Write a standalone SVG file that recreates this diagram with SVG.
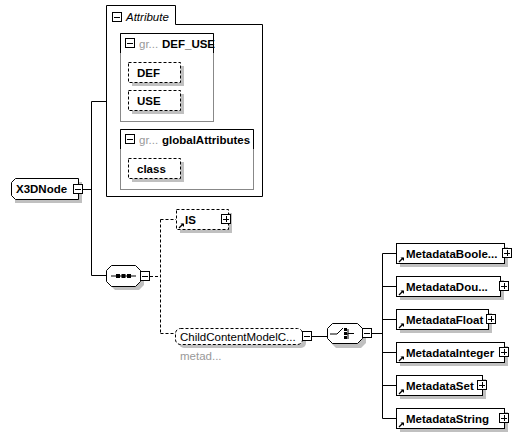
<svg xmlns="http://www.w3.org/2000/svg" width="523" height="437" viewBox="0 0 523 437">
<style>
.t{font-family:"Liberation Sans",Arial,sans-serif;font-size:11.5px;fill:#000;}
.b{font-weight:bold;}
.g{fill:#999;}
.ln{stroke:#000;stroke-width:1;fill:none;}
.dl{stroke:#000;stroke-width:1;fill:none;stroke-dasharray:3,2;}
.box{fill:#fff;stroke:#000;stroke-width:1;}
.dbox{fill:#fff;stroke:#000;stroke-width:1;stroke-dasharray:3,2;}
.sh{fill:#c0c0c0;}
.btn{fill:#fff;stroke:#000;stroke-width:1;}
.gb{fill:none;stroke:#888;stroke-width:1;}
</style>
<defs>
<g id="minus"><rect class="btn" x="0.5" y="0.5" width="9" height="9"/><path class="ln" d="M2,5.5H8"/></g>
<g id="plus"><rect class="btn" x="0.5" y="0.5" width="9" height="9"/><path class="ln" d="M2,5.5H8M5.5,2V8"/></g>
<g id="ref"><path d="M1,7L5,3" stroke="#000" stroke-width="1.2"/><path d="M2.5,2.5H6V6Z" fill="#000"/></g>
</defs>
<rect width="523" height="437" fill="#fff"/>

<g id="connectors">
<path class="ln" d="M83,189.5H91.5M91.5,101.5V275.5M91.5,101.5H106M91.5,275.5H106"/>
<path class="dl" d="M150,276.5H160.5M160.5,219.5V333.5M160.5,219.5H176M160.5,333.5H176"/>
<path class="ln" d="M312,336.5H327M372,333.5H382.5M382.5,253.5V418.5"/>
<path class="ln" d="M382.5,253.5H396M382.5,286.5H396M382.5,319.5H396M382.5,352.5H396M382.5,385.5H396M382.5,418.5H396"/>
</g>

<g id="attribute">
<path class="ln" d="M106.5,196.5V5.5H175.5V24.5H262.5V196.5Z" fill="#fff"/>
<use href="#minus" x="112" y="12"/>
<text class="t" x="126" y="21" font-style="italic">Attribute</text>
</g>

<g id="DEF_USE">
<rect class="gb" x="120.5" y="33.5" width="93" height="88"/>
<path class="ln" d="M120.5,53V33.5H213.5V53"/>
<use href="#minus" x="125" y="38"/>
<text class="t g" x="139" y="48">gr...</text>
<text class="t b" x="162" y="48">DEF_USE</text>
</g>
<g id="DEF">
<rect class="sh" x="132" y="66" width="52" height="20"/>
<rect class="dbox" x="128.5" y="62.5" width="52" height="20"/>
<text class="t b" x="137" y="77">DEF</text>
</g>
<g id="USE">
<rect class="sh" x="132" y="94" width="52" height="20"/>
<rect class="dbox" x="128.5" y="90.5" width="52" height="20"/>
<text class="t b" x="137" y="105">USE</text>
</g>

<g id="globalAttributes">
<rect class="gb" x="120.5" y="129.5" width="133" height="60"/>
<path class="ln" d="M120.5,149V129.5H253.5V149"/>
<use href="#minus" x="125" y="134"/>
<text class="t g" x="139" y="144">gr...</text>
<text class="t b" x="162" y="144">globalAttributes</text>
</g>
<g id="class">
<rect class="sh" x="132" y="162" width="52" height="20"/>
<rect class="dbox" x="128.5" y="158.5" width="52" height="20"/>
<text class="t b" x="137" y="173">class</text>
</g>

<g id="X3DNode">
<path class="sh" d="M19,182H82V203H15V186Z"/>
<path class="box" d="M15.5,178.5H78.5V199.5H15.5L11.5,195.5V182.5Z"/>
<text class="t b" x="16" y="193">X3DNode</text>
<use href="#minus" x="73" y="184"/>
</g>

<g id="sequence">
<path class="sh" d="M115,269H139L144,274V285L139,290H115L110,285V274Z"/>
<path class="box" d="M111.5,265.5H135.5L140.5,270.5V281.5L135.5,286.5H111.5L106.5,281.5V270.5Z"/>
<path class="ln" d="M111,276H136"/>
<rect x="116" y="274" width="4" height="4" fill="#000"/>
<rect x="121.5" y="274" width="4" height="4" fill="#000"/>
<rect x="127" y="274" width="4" height="4" fill="#000"/>
<use href="#minus" x="140" y="271"/>
</g>

<g id="IS">
<rect class="sh" x="180" y="213" width="52" height="20"/>
<rect class="dbox" x="176.5" y="209.5" width="52" height="20"/>
<use href="#ref" x="178" y="221"/>
<text class="t b" x="185" y="224">IS</text>
<use href="#plus" x="221" y="214"/>
</g>

<g id="ChildContentModel">
<rect class="sh" x="179" y="332" width="127" height="16" rx="5"/>
<rect class="dbox" x="175.5" y="328.5" width="127" height="16" rx="5"/>
<text class="t" x="180" y="341" fill="#000">ChildContentModelC...</text>
<use href="#minus" x="302" y="331"/>
<text class="t g" x="180" y="360" font-size="10">metad...</text>
</g>

<g id="choice">
<path class="sh" d="M336,327H361L366,332V343L361,348H336L331,343V332Z"/>
<path class="box" d="M332.5,323.5H357.5L362.5,328.5V338.5L357.5,343.5H332.5L327.5,338.5V328.5Z"/>
<path class="ln" d="M330,334H337L343,328M345,334H348M348,329V339"/>
<rect x="344" y="328" width="3" height="3" fill="#000"/>
<rect x="344" y="332" width="3" height="3" fill="#000"/>
<rect x="344" y="336" width="3" height="3" fill="#000"/>
<path class="ln" d="M348,333.5H354"/>
<use href="#minus" x="362" y="328"/>
</g>

<g id="MetadataBoolean">
<rect class="sh" x="400" y="247" width="108" height="20"/>
<rect class="box" x="396.5" y="243.5" width="108" height="20"/>
<use href="#ref" x="398" y="255"/>
<text class="t b" x="406" y="258">MetadataBoole...</text>
<use href="#plus" x="502" y="248"/>
</g>
<g id="MetadataDouble">
<rect class="sh" x="400" y="280" width="104" height="20"/>
<rect class="box" x="396.5" y="276.5" width="104" height="20"/>
<use href="#ref" x="398" y="288"/>
<text class="t b" x="406" y="291">MetadataDou...</text>
<use href="#plus" x="499" y="281"/>
</g>
<g id="MetadataFloat">
<rect class="sh" x="400" y="313" width="92" height="20"/>
<rect class="box" x="396.5" y="309.5" width="92" height="20"/>
<use href="#ref" x="398" y="321"/>
<text class="t b" x="406" y="324">MetadataFloat</text>
<use href="#plus" x="486" y="314"/>
</g>
<g id="MetadataInteger">
<rect class="sh" x="400" y="346" width="108" height="20"/>
<rect class="box" x="396.5" y="342.5" width="108" height="20"/>
<use href="#ref" x="398" y="354"/>
<text class="t b" x="406" y="357">MetadataInteger</text>
<use href="#plus" x="499" y="347"/>
</g>
<g id="MetadataSet">
<rect class="sh" x="400" y="379" width="86" height="20"/>
<rect class="box" x="396.5" y="375.5" width="86" height="20"/>
<use href="#ref" x="398" y="387"/>
<text class="t b" x="406" y="390">MetadataSet</text>
<use href="#plus" x="477" y="380"/>
</g>
<g id="MetadataString">
<rect class="sh" x="400" y="412" width="108" height="20"/>
<rect class="box" x="396.5" y="408.5" width="108" height="20"/>
<use href="#ref" x="398" y="420"/>
<text class="t b" x="406" y="423">MetadataString</text>
<use href="#plus" x="499" y="413"/>
</g>
</svg>
